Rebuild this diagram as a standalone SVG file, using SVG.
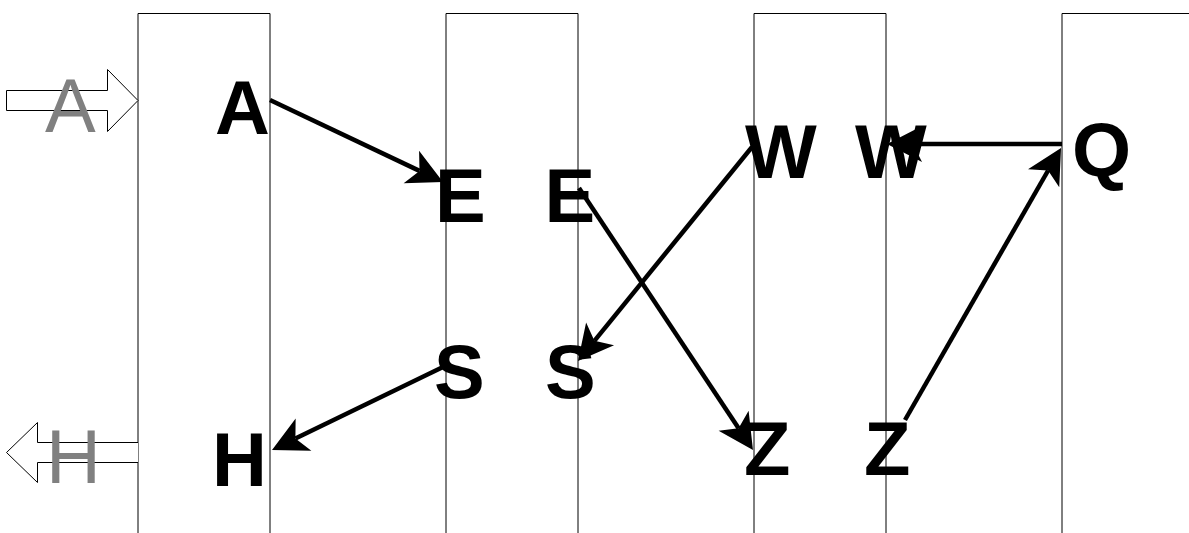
<svg xmlns="http://www.w3.org/2000/svg" width="1189" height="533" viewBox="0 0 1189 533">
  <style>
    .lane { fill: none; stroke: #000; stroke-width: 1; }
    .lbl { font-family: "Liberation Sans", Arial, sans-serif; font-weight: bold; font-size: 76px; fill: #000; }
    .port { fill: #fff; stroke: #000; stroke-width: 1; }
    .portlbl { font-family: "Liberation Sans", Arial, sans-serif; font-size: 76px; fill: #808080; }
    .flow { fill: none; stroke: #000; stroke-width: 4.5; marker-end: url(#head); }
  </style>
  <defs>
    <!-- origin sits at the notch; the tip reaches 26px past the line end -->
    <marker id="head" markerUnits="userSpaceOnUse" orient="auto" refX="0" refY="0" markerWidth="60" markerHeight="60" overflow="visible">
      <path d="M26,0 L-9,-18 L0,0 L-9,18 Z" fill="#000"/>
    </marker>
  </defs>

  <rect width="1189" height="533" fill="#fff"/>

  <!-- lanes -->
  <g id="lanes">
    <path class="lane" d="M138,533 V13.5 H270 V533"/>
    <path class="lane" d="M446,533 V13.5 H578 V533"/>
    <path class="lane" d="M754,533 V13.5 H886 V533"/>
    <path class="lane" d="M1062,533 V13.5 H1195"/>
  </g>

  <!-- entry / exit ports -->
  <g id="port-in">
    <path class="port" d="M6.5,90.5 H107.5 V69.5 L138,100.5 L107.5,131.5 V110.5 H6.5 Z"/>
    <text class="portlbl" x="45" y="132">A</text>
  </g>
  <g id="port-out">
    <path class="port" d="M138,442.5 H37.5 V422.5 L6.5,452.5 L37.5,482.5 V462.5 H138"/>
    <text class="portlbl" x="46" y="483">H</text>
  </g>

  <!-- connectors -->
  <g id="connectors">
    <line class="flow" x1="270" y1="100" x2="419.5" y2="170.9"/>
    <line class="flow" x1="579" y1="188" x2="738.6" y2="428.3"/>
    <line class="flow" x1="752" y1="147" x2="594.4" y2="340.8"/>
    <line class="flow" x1="1062" y1="144" x2="913" y2="144"/>
    <line class="flow" x1="905" y1="420" x2="1048.1" y2="170.5"/>
    <line class="flow" x1="443" y1="367" x2="295.4" y2="438.6"/>
  </g>

  <!-- nodes -->
  <g id="node-a"><text class="lbl" x="215" y="134">A</text></g>
  <g id="node-e1"><text class="lbl" x="435" y="222">E</text></g>
  <g id="node-e2"><text class="lbl" x="544.5" y="222">E</text></g>
  <g id="node-w1"><text class="lbl" x="745" y="178">W</text></g>
  <g id="node-w2"><text class="lbl" x="855" y="178">W</text></g>
  <g id="node-q"><text class="lbl" x="1072" y="176">Q</text></g>
  <g id="node-s1"><text class="lbl" x="434" y="398">S</text></g>
  <g id="node-s2"><text class="lbl" x="545" y="398">S</text></g>
  <g id="node-h"><text class="lbl" x="212" y="486">H</text></g>
  <g id="node-z1"><text class="lbl" x="744" y="475">Z</text></g>
  <g id="node-z2"><text class="lbl" x="864" y="475">Z</text></g>
</svg>
